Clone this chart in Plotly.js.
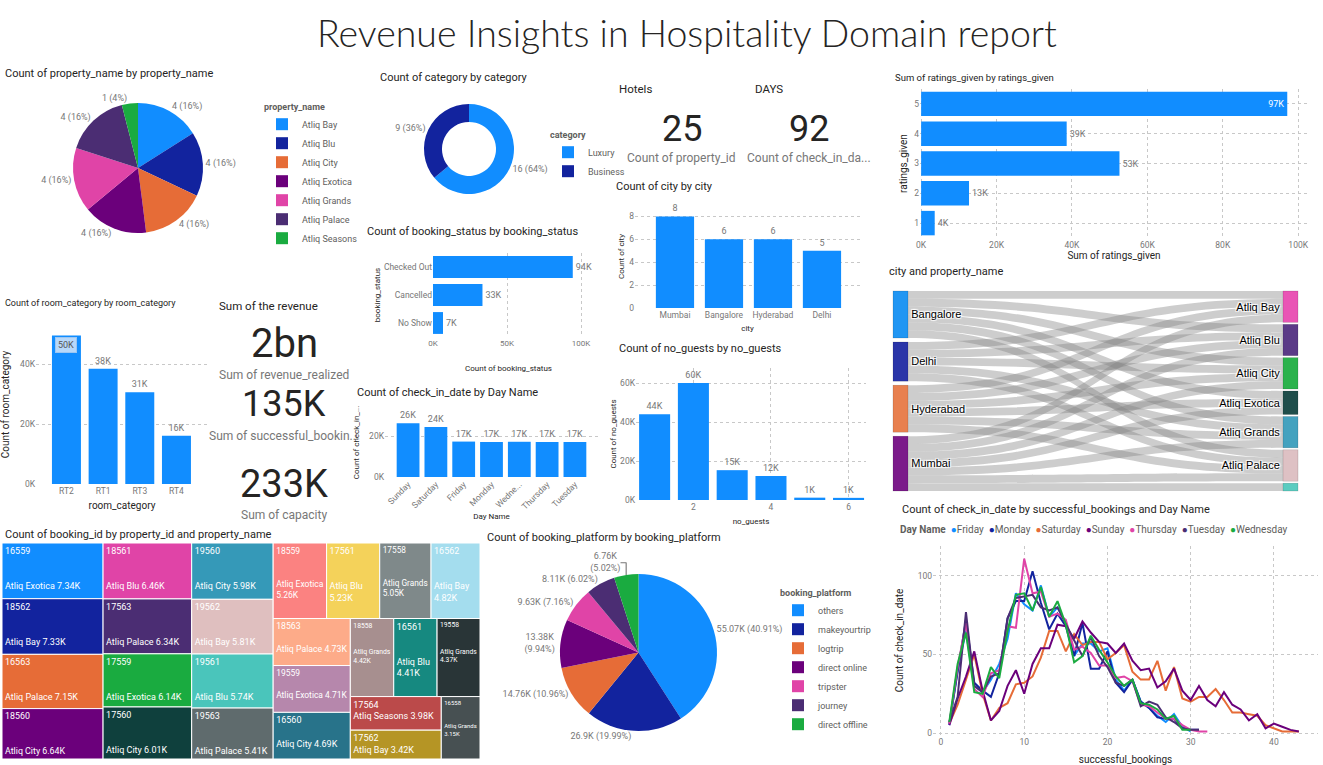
<!DOCTYPE html>
<html><head><meta charset="utf-8">
<script src="https://cdn.plot.ly/plotly-3.0.1.min.js"></script>
<style>html,body{margin:0;padding:0;background:#fff;overflow:hidden}</style>
</head><body><div id="chart" style="width:1323px;height:765px"></div>
<script>
const W = 1323, H = 765;

// ---------------- DATA ----------------
const propertyNames = ['Atliq Bay','Atliq Blu','Atliq City','Atliq Exotica','Atliq Grands','Atliq Palace','Atliq Seasons'];
const propertyCounts = [4,4,4,4,4,4,1];
const propertyColors = ['#118DFF','#12239E','#E66C37','#6B007B','#E044A7','#4B2D73','#1AAB40'];

const categoryNames = ['Luxury','Business'];
const categoryCounts = [16,9];
const categoryColors = ['#118DFF','#12239E'];

const kpiTitles = ['Hotels','DAYS','Sum of the revenue'];
const kpiValues = ['25','92','2bn','135K','233K'];
const kpiLabels = ['Count of property_id','Count of check_in_da...','Sum of revenue_realized','Sum of successful_bookin...','Sum of capacity'];

const bookingStatus = ['Checked Out','Cancelled','No Show'];
const bookingStatusCounts = [94411,33420,6756];
const statusTicks = [0,50000,100000];
const statusTickText = ['0K','50K','100K'];

const cities = ['Mumbai','Bangalore','Hyderabad','Delhi'];
const cityCounts = [8,6,6,5];
const cityTicks = [0,2,4,6,8];

const ratings = ['5','4','3','2','1'];
const ratingSums = [97100,38600,52600,12700,3600];
const ratingTicks = [0,20000,40000,60000,80000,100000];
const ratingTickText = ['0K','20K','40K','60K','80K','100K'];

const roomCategories = ['RT2','RT1','RT3','RT4'];
const roomCounts = [49505,38446,30566,16073];
const roomTicks = [0,20000,40000];
const roomTickText = ['0K','20K','40K'];

const dayNames = ['Sunday','Saturday','Friday','Monday','Wednesday','Thursday','Tuesday'];
const dayTickLabels = ['Sunday','Saturday','Friday','Monday','Wedne...','Thursday','Tuesday'];
const dayCounts = [26300,24400,17300,17100,17200,17100,17100];
const dayTicks = [0,20000];
const dayTickText = ['0K','20K'];

const guests = [1,2,3,4,5,6];
const guestCounts = [44000,60000,15300,12300,1200,1100];
const guestTicks = [0,20000,40000,60000];
const guestTickText = ['0K','20K','40K','60K'];

const sankeyCities = ['Bangalore','Delhi','Hyderabad','Mumbai'];
const sankeyCityColors = ['#2196F3','#2A35A8','#E8804F','#7B1A8A'];
const sankeyProps = ['Atliq Bay','Atliq Blu','Atliq City','Atliq Exotica','Atliq Grands','Atliq Palace','Atliq Seasons'];
const sankeyPropColors = ['#E955B5','#5B3A87','#2BB24C','#1F4E4B','#44A2BF','#DEC1C4','#5ACCC0'];
const linkFrom = ['Bangalore','Bangalore','Bangalore','Bangalore','Bangalore','Bangalore',
  'Delhi','Delhi','Delhi','Delhi','Delhi',
  'Hyderabad','Hyderabad','Hyderabad','Hyderabad','Hyderabad','Hyderabad',
  'Mumbai','Mumbai','Mumbai','Mumbai','Mumbai','Mumbai','Mumbai'];
const linkTo = ['Atliq Bay','Atliq Blu','Atliq City','Atliq Exotica','Atliq Grands','Atliq Palace',
  'Atliq Bay','Atliq Blu','Atliq City','Atliq Grands','Atliq Palace',
  'Atliq Bay','Atliq Blu','Atliq City','Atliq Exotica','Atliq Grands','Atliq Palace',
  'Atliq Bay','Atliq Blu','Atliq City','Atliq Exotica','Atliq Grands','Atliq Palace','Atliq Seasons'];
const linkValues = [1,1,1,1,1,1, 1,1,1,1,1, 1,1,1,1,1,1, 1,1,1,1,1,1,1];

const treeIds = ['16559','18562','16563','18560','18561','17563','17559','17560','19560','19562','19561','19563',
  '18559','17561','17558','16562','18563','19559','16560','18558','16561','19558','17564','17562','16558'];
const treeNames = ['Atliq Exotica','Atliq Bay','Atliq Palace','Atliq City','Atliq Blu','Atliq Palace','Atliq Exotica','Atliq City',
  'Atliq City','Atliq Bay','Atliq Blu','Atliq Palace','Atliq Exotica','Atliq Blu','Atliq Grands','Atliq Bay',
  'Atliq Palace','Atliq Exotica','Atliq City','Atliq Grands','Atliq Blu','Atliq Grands','Atliq Seasons','Atliq Bay','Atliq Grands'];
const treeValues = [7340,7330,7150,6640,6460,6340,6140,6010,5980,5810,5740,5410,
  5260,5230,5050,4820,4730,4710,4690,4420,4410,4370,3980,3420,3150];
const treeColors = ['#118DFF','#12239E','#E66C37','#6B007B','#E044A7','#4B2D73','#1AAB40','#0F403D',
  '#3599B8','#DFBFBF','#4AC5BB','#5F6B6D','#FB8281','#F4D25A','#7F898A','#A4DDEE',
  '#FDAB89','#B687AC','#28738A','#A78F8F','#168980','#293537','#BB4A4A','#B59525','#475052'];

const platforms = ['others','makeyourtrip','logtrip','direct online','tripster','journey','direct offline'];
const platformCounts = [55066,26900,14756,13379,9634,8106,6757];
const platformColors = ['#118DFF','#12239E','#E66C37','#6B007B','#E044A7','#4B2D73','#1AAB40'];

const successfulBookings = [1,2,3,4,5,6,7,8,9,10,11,12,13,14,15,16,17,18,19,20,21,22,23,24,25,26,27,28,29,30,31,32,33,34,35,36,37,38,39,40,41,42,43];
const lineDays = ['Friday','Monday','Saturday','Sunday','Thursday','Tuesday','Wednesday'];
const lineColors = ['#118DFF','#12239E','#E66C37','#6B007B','#E044A7','#4B2D73','#1AAB40'];
const fridayCounts = [5,40,65,30,26,34,44,60,89,82,78,94,74,80,70,49,57,57,52,54,34,27,34,20,16,11,7,12,4,1];
const mondayCounts = [6,38,72,32,27,23,38,73,84,84,103,83,66,76,68,49,70,41,41,52,32,26,34,20,16,10,9,9,3,2,2];
const saturdayCounts = [6,18,34,50,25,8,16,19,31,32,36,48,65,65,52,63,56,58,58,47,51,56,39,34,34,46,27,42,22,20,23,23,28,21,13,13,12,11,5,3,1,1,1];
const sundayCounts = [5,22,36,52,27,8,14,30,40,25,44,54,54,69,68,60,71,64,58,57,51,57,46,40,41,29,33,41,27,21,30,21,17,26,18,15,8,12,3,6,4,2,1];
const thursdayCounts = [6,42,70,28,23,38,40,68,67,111,89,90,74,76,72,53,55,51,43,43,35,36,33,18,17,13,9,9,5,2,1,1];
const tuesdayCounts = [7,23,77,30,26,36,38,73,86,87,88,80,78,80,70,59,49,61,49,42,32,30,34,17,20,18,10,7,3,2,2];
const wednesdayCounts = [7,44,64,26,25,42,35,65,88,89,78,93,74,84,69,45,49,62,53,45,36,30,34,19,18,15,9,11,2,2];
const lineSeries = [fridayCounts,mondayCounts,saturdayCounts,sundayCounts,thursdayCounts,tuesdayCounts,wednesdayCounts];

// ---------------- HELPERS ----------------
const px = (a,b) => [a/W, b/W];
const py = (t,b) => [1-b/H, 1-t/H];
const fmtK = v => Math.round(v/1000) + 'K';
const fmtK2 = v => parseFloat((v/1000).toFixed(2)) + 'K';
const BLUE = '#118DFF';
const TICK = {size:8.5, color:'#777'};
const TTL = '#252423';
const FONT = 'Roboto, "Open Sans", sans-serif';

function ax(extra){
  return Object.assign({showline:false, zeroline:false, ticks:'', tickfont:TICK,
    gridcolor:'#C8C8C8', griddash:'dot', gridwidth:1, showgrid:false, fixedrange:true}, extra);
}
function atitle(t, s, standoff){
  const o = {text:t, font:{size:s, color:TTL}};
  if (standoff !== undefined) o.standoff = standoff;
  return o;
}

const traces = [];

// Pie: property_name
traces.push({type:'pie', labels:propertyNames, values:propertyCounts, sort:false, direction:'clockwise', rotation:0,
  marker:{colors:propertyColors, line:{width:0}}, textposition:'outside',
  texttemplate:'%{value} (%{percent:.0%})', textfont:{size:9, color:'#777'},
  domain:{x:px(73,203), y:py(103,233)}, legend:'legend', hoverinfo:'label+value'});

// Donut: category
traces.push({type:'pie', labels:categoryNames, values:categoryCounts, hole:0.6, sort:false, direction:'clockwise', rotation:0,
  marker:{colors:categoryColors, line:{width:0}}, textposition:'outside',
  texttemplate:'%{value} (%{percent:.0%})', textfont:{size:9, color:'#777'},
  domain:{x:px(424,514), y:py(104,194)}, legend:'legend2'});

// booking_status
traces.push({type:'bar', orientation:'h', y:bookingStatus, x:bookingStatusCounts, width:0.78,
  marker:{color:BLUE}, text:bookingStatusCounts.map(fmtK), textposition:'outside',
  textfont:{size:9, color:'#777'}, cliponaxis:false, xaxis:'x', yaxis:'y', showlegend:false});

// city
traces.push({type:'bar', x:cities, y:cityCounts, width:0.78, marker:{color:BLUE},
  text:cityCounts.map(String), textposition:'outside', textfont:{size:9, color:'#777'}, cliponaxis:false,
  xaxis:'x2', yaxis:'y2', showlegend:false});

// ratings
traces.push({type:'bar', orientation:'h', y:ratings, x:ratingSums, width:0.82, marker:{color:BLUE},
  text:ratingSums.map(fmtK), textposition:['inside','outside','outside','outside','outside'],
  insidetextanchor:'end', insidetextfont:{size:9, color:'#fff'}, outsidetextfont:{size:9, color:'#777'},
  cliponaxis:false, xaxis:'x3', yaxis:'y3', showlegend:false});

// room category
traces.push({type:'bar', x:roomCategories, y:roomCounts, width:0.79, marker:{color:BLUE},
  text:roomCounts.map(fmtK), textposition:['none','outside','outside','outside'],
  textfont:{size:9, color:'#777'}, cliponaxis:false, xaxis:'x4', yaxis:'y4', showlegend:false});

// day name
traces.push({type:'bar', x:dayNames, y:dayCounts, width:0.82, marker:{color:BLUE},
  text:dayCounts.map(fmtK), textposition:'outside', textfont:{size:9, color:'#777'}, cliponaxis:false,
  xaxis:'x5', yaxis:'y5', showlegend:false});

// no_guests
traces.push({type:'bar', x:guests, y:guestCounts, width:0.8, marker:{color:BLUE},
  text:guestCounts.map(fmtK), textposition:'outside', textfont:{size:9, color:'#777'}, cliponaxis:false,
  xaxis:'x6', yaxis:'y6', showlegend:false});

// sankey
const nodeNames = sankeyCities.concat(sankeyProps);
const nodeColors = sankeyCityColors.concat(sankeyPropColors);
const src = linkFrom.map(n => nodeNames.indexOf(n));
const tgt = linkTo.map(n => nodeNames.indexOf(n));
const SK_W = 405, SK_H = 200, SK_T = 15, SK_PAD = 2;
function totals(names, field){
  return names.map(n => linkValues.reduce((s,v,i)=> s + (field[i]===n ? v : 0), 0));
}
const cityTot = totals(sankeyCities, linkFrom);
const propTot = totals(sankeyProps, linkTo);
const totalLinks = linkValues.reduce((a,b)=>a+b,0);
const ky = Math.min((SK_H-(sankeyCities.length-1)*SK_PAD)/totalLinks, (SK_H-(sankeyProps.length-1)*SK_PAD)/totalLinks);
function centers(tot){
  const gap = (SK_H - totalLinks*ky)/(tot.length-1);
  let acc = 0; const out = [];
  tot.forEach((v)=>{ out.push((acc + v*ky/2)/SK_H); acc += v*ky + gap; });
  return out;
}
const allTot = cityTot.concat(propTot);
// nodes too thin to hold a label are left unlabeled, as in the source visual
const nodeLabels = nodeNames.map((n,i)=> allTot[i]*ky >= 12 ? n : '');
const nodeX = sankeyCities.map(()=> SK_T/2/SK_W).concat(sankeyProps.map(()=> 1 - SK_T/2/SK_W));
const nodeY = centers(cityTot).concat(centers(propTot));
traces.push({type:'sankey', arrangement:'fixed', domain:{x:px(893,1298), y:py(291,491)},
  node:{label:nodeLabels, color:nodeColors, thickness:SK_T, pad:SK_PAD, x:nodeX, y:nodeY,
    line:{color:'rgba(0,0,0,0.25)', width:0.5}},
  link:{source:src, target:tgt, value:linkValues, color:'rgba(130,130,130,0.4)'},
  textfont:{family:'"Liberation Sans", Arial, sans-serif', size:11, color:'#000'}});

// treemap (label layout per tile shape: w = wide tile, m = medium tile, t = tall narrow tile, f = flat tile)
const treeTileShape = ['w','w','w','w','w','w','w','w','w','w','w','w','t','t','t','t','m','m','m','t','t','t','f','f','t'];
const tplFor = {w:'%{label}<br><br><br>%{customdata[0]} %{customdata[1]}',
  m:'%{label}<br><br>%{customdata[0]} %{customdata[1]}',
  t:'%{label}<br><br><br>%{customdata[0]}<br>%{customdata[1]}',
  f:'%{label}<br>%{customdata[0]} %{customdata[1]}'};
traces.push({type:'treemap', ids:treeIds, labels:treeIds, parents:treeIds.map(()=>''), values:treeValues,
  customdata:treeNames.map((n,i)=> [n, fmtK2(treeValues[i])]),
  texttemplate:treeTileShape.map(s => tplFor[s]), textposition:'top left',
  textfont:{size:9, color:'#fff', family:FONT},
  marker:{colors:treeColors, line:{width:1, color:'#fff'}, pad:{t:0,l:0,r:0,b:0}},
  tiling:{packing:'squarify', squarifyratio:1.8, pad:0}, pathbar:{visible:false}, sort:true,
  domain:{x:px(2,480), y:py(543,759)}, hoverinfo:'label+value'});

// booking platform pie
const pfTpl = '%{text} (%{percent:.2%})', pfTpl2 = '%{text}<br>(%{percent:.2%})';
traces.push({type:'pie', labels:platforms, values:platformCounts, sort:false, direction:'clockwise', rotation:0,
  marker:{colors:platformColors, line:{width:0}}, textposition:'outside',
  text:platformCounts.map(fmtK2),
  texttemplate:[pfTpl,pfTpl,pfTpl,pfTpl2,pfTpl,pfTpl,pfTpl2],
  textfont:{size:9, color:'#777'},
  domain:{x:px(560,717), y:py(574,731)}, legend:'legend3'});

// lines
lineSeries.forEach((s,i)=>{
  traces.push({type:'scatter', mode:'lines', name:lineDays[i], x:successfulBookings.slice(0,s.length), y:s,
    line:{color:lineColors[i], width:2}, xaxis:'x7', yaxis:'y7', showlegend:false});
});

// ---------------- ANNOTATIONS ----------------
const ann = [];
function T(x,y,text,size,color,extra,family){
  ann.push(Object.assign({xref:'paper', yref:'paper', x:x/W, y:1-y/H, text:text, showarrow:false,
    xanchor:'left', yanchor:'middle', font:{size:size, color:color, family:family||FONT}}, extra||{}));
}
T(687,33,'Revenue Insights in Hospitality Domain report',37.5,'#252423',{xanchor:'center'},'Lato, Roboto, sans-serif');
ann[0].font.weight = 300;
T(3,74,'Count of property_name by property_name',11,TTL);
T(378,78,'Count of category by category',11,TTL);
T(617,89,kpiTitles[0],11.5,TTL);
T(753,89,kpiTitles[1],11.5,TTL);
T(614,186,'Count of city by city',11,TTL);
T(365,231,'Count of booking_status by booking_status',11,TTL);
T(893,78,'Sum of ratings_given by ratings_given',9.5,TTL);
T(887,271,'city and property_name',11,TTL);
T(3,303,'Count of room_category by room_category',9,TTL);
T(217,306,kpiTitles[2],11.5,TTL);
T(355,393,'Count of check_in_date by Day Name',11,TTL);
T(617,349,'Count of no_guests by no_guests',11,TTL);
T(3,534,'Count of booking_id by property_id and property_name',11,TTL);
T(485,537,'Count of booking_platform by booking_platform',11,TTL);
T(900,509,'Count of check_in_date by successful_bookings and Day Name',11,TTL);

// KPI values and labels
const kpiPos = [[682,129,36],[809,129,36],[284,344,40],[284,404,36],[284,484,38]];
const kpiLabPos = [[681,158],[809,158],[284,375],[284,436],[284,515]];
kpiValues.forEach((v,i)=> T(kpiPos[i][0],kpiPos[i][1],v,kpiPos[i][2],'#252423',{xanchor:'center'}));
kpiLabels.forEach((v,i)=> T(kpiLabPos[i][0],kpiLabPos[i][1],v,12,'#777',{xanchor:'center'}));

// highlighted data label for first room category bar
ann.push({xref:'x4', yref:'y4', x:roomCategories[0], y:roomCounts[0], yshift:-10, text:fmtK(roomCounts[0]),
  showarrow:false, bgcolor:'#B7D8FA', bordercolor:'#9CC6F2', borderwidth:1, borderpad:2,
  font:{size:9, color:'#555', family:FONT}});

// line chart legend
const legendText = '<b>Day Name</b>  ' + lineDays.map((d,i)=>
  '<span style="color:' + lineColors[i] + '">●</span>' + d).join('  ');
T(898,529,legendText,10,'#605E5C');

// ---------------- LAYOUT ----------------
const legBase = {xanchor:'left', yanchor:'top', bgcolor:'rgba(0,0,0,0)', font:{size:9, color:'#605E5C', family:FONT},
  tracegroupgap:0, itemclick:false, itemdoubleclick:false};

const layout = {
  width:W, height:H, margin:{l:0,r:0,t:0,b:0, autoexpand:false}, paper_bgcolor:'#fff', plot_bgcolor:'rgba(0,0,0,0)',
  font:{family:FONT, color:'#605E5C'}, hovermode:false, showlegend:true,
  legend:Object.assign({}, legBase, {x:262/W, y:1-98/H, title:{text:'<b>property_name</b>', font:{size:9, color:'#605E5C'}}}),
  legend2:Object.assign({}, legBase, {x:548/W, y:1-126/H, title:{text:'<b>category</b>', font:{size:9, color:'#605E5C'}}}),
  legend3:Object.assign({}, legBase, {x:778/W, y:1-584/H, title:{text:'<b>booking_platform</b>', font:{size:9, color:'#605E5C'}}}),
  annotations:ann,

  xaxis: ax({domain:px(433,584), range:[0,102000], tickvals:statusTicks, ticktext:statusTickText, showgrid:true,
    anchor:'y', title:atitle('Count of booking_status',8), tickfont:{size:8,color:'#777'}}),
  yaxis: ax({domain:py(253,337), type:'category', autorange:'reversed', anchor:'x',
    title:atitle('booking_status',8), tickfont:{size:8.5,color:'#777'}}),

  xaxis2: ax({domain:px(635,860), type:'category', range:[-0.816,3.776], anchor:'y2', automargin:'height',
    title:atitle('city',8,6)}),
  yaxis2: ax({domain:py(205,308), range:[0,9], tickvals:cityTicks, showgrid:true, anchor:'x2', automargin:'width',
    title:atitle('Count of city',8,3)}),

  xaxis3: ax({domain:px(920,1308), range:[-300,102600], tickvals:ratingTicks, ticktext:ratingTickText, showgrid:true,
    anchor:'y3', automargin:'height', title:atitle('Sum of ratings_given',10,2)}),
  yaxis3: ax({domain:py(89,238), type:'category', autorange:'reversed', showgrid:true, anchor:'x3', automargin:'width',
    title:atitle('ratings_given',10,4)}),

  xaxis4: ax({domain:px(36,208), type:'category', range:[-0.83,3.86], anchor:'y4', automargin:'height',
    title:atitle('room_category',10,7)}),
  yaxis4: ax({domain:py(325,484), range:[0,53000], tickvals:roomTicks, ticktext:roomTickText, showgrid:true,
    anchor:'x4', title:atitle('Count of room_category',10)}),

  xaxis5: ax({domain:px(385,598), type:'category', range:[-0.83,6.83], tickvals:dayNames, ticktext:dayTickLabels,
    tickangle:-45, anchor:'y5', title:atitle('Day Name',8)}),
  yaxis5: ax({domain:py(408,477), range:[0,33700], tickvals:dayTicks, ticktext:dayTickText, showgrid:true,
    anchor:'x5', title:atitle('Count of check_in_...',8)}),

  xaxis6: ax({domain:px(636,866), range:[0.52,6.45], tickvals:[2,4,6], showgrid:true, anchor:'y6', automargin:'height',
    title:atitle('no_guests',8,7)}),
  yaxis6: ax({domain:py(368,500), range:[0,67700], tickvals:guestTicks, ticktext:guestTickText, showgrid:true,
    anchor:'x6', automargin:'width', title:atitle('Count of no_guests',8,2)}),

  xaxis7: ax({domain:px(933,1318), range:[-0.96,45.3], tick0:0, dtick:10, showgrid:true, anchor:'y7',
    title:atitle('successful_bookings',10)}),
  yaxis7: ax({domain:py(546,735), range:[-1.27,119.1], tickvals:[0,50,100], showgrid:true, anchor:'x7',
    title:atitle('Count of check_in_date',10)})
};

Plotly.newPlot('chart', traces, layout, {displayModeBar:false, staticPlot:true});
</script>
</body></html>
